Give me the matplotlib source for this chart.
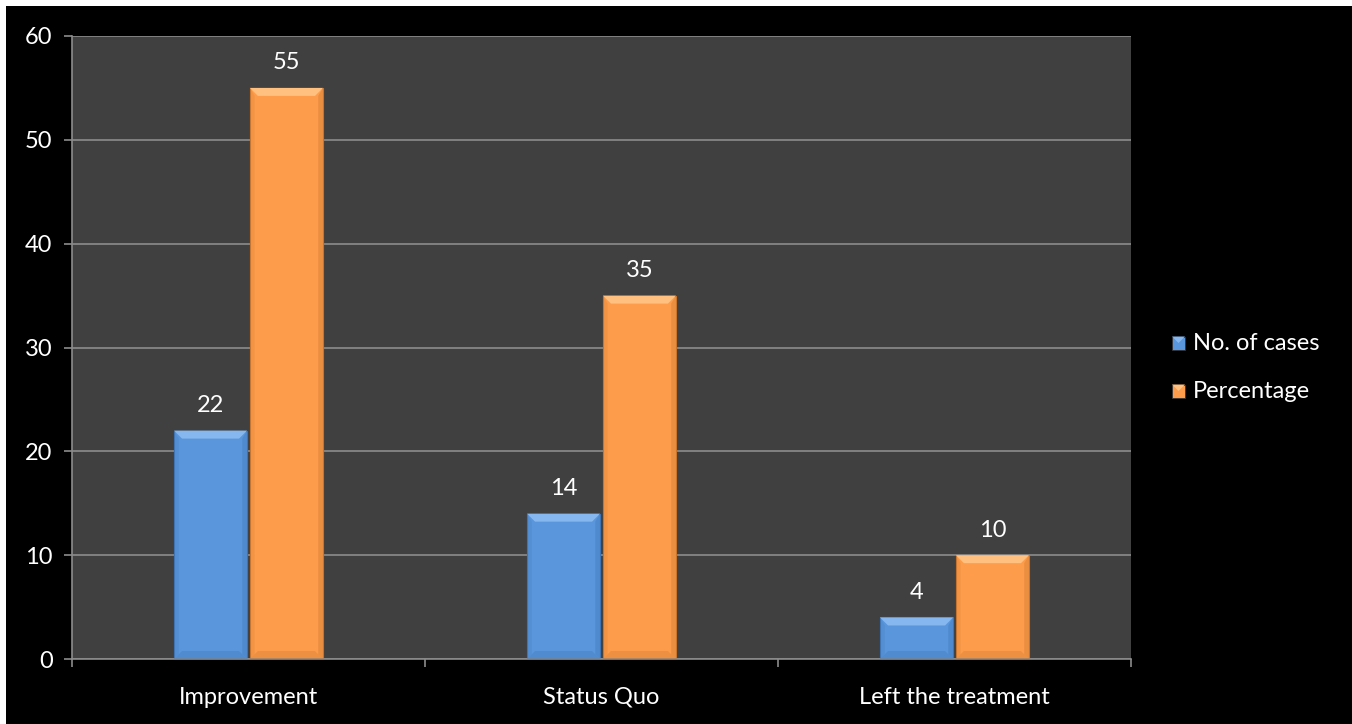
import numpy as np
import matplotlib
matplotlib.use("Agg")
import matplotlib.pyplot as plt
from matplotlib.patches import Polygon, Rectangle

plt.rcParams["font.family"] = ["Lato", "DejaVu Sans"]

categories = ["Improvement", "Status Quo", "Left the treatment"]
cases = [22, 14, 4]
percentage = [55, 35, 10]
series_names = ["No. of cases", "Percentage"]
yticks = [0, 10, 20, 30, 40, 50, 60]

blue = "#5a96dc"
orange = "#fd9d4b"
blue_light, blue_dark = "#86b8ef", "#3f74b4"
orange_light, orange_dark = "#ffc080", "#c9742c"
fs = 17

fig = plt.figure(figsize=(13.52, 7.24), dpi=100, facecolor="white")
# black chart area with a thin white margin on top and left
fig.patches.append(Rectangle((6 / 1352, 0), 1, 1 - 6 / 724, transform=fig.transFigure,
                             facecolor="black", edgecolor="none", zorder=-10))
ax = fig.add_axes([72 / 1352, 1 - 659 / 724, (1131 - 72) / 1352, (659 - 36) / 724])
ax.set_facecolor("#404040")

x = np.arange(len(categories))
w = 0.207
gap = 0.004

ax.set_xlim(-0.5, 2.5)
ax.set_ylim(0, 60)
ax.set_yticks(yticks)
ax.yaxis.grid(True, color="#8c8c8c", linewidth=1.2)
ax.set_axisbelow(True)
ax.set_xticks([-0.5, 0.5, 1.5, 2.5], minor=False)
ax.set_xticklabels([])
ax.set_xticks(x, minor=True)
ax.set_xticklabels(categories, minor=True)
ax.tick_params(axis="x", which="minor", length=0, pad=20, labelsize=fs, labelcolor="white")
ax.tick_params(axis="x", which="major", length=6, color="#8c8c8c", width=1.2)
ax.tick_params(axis="y", length=6, color="#8c8c8c", width=1.2, labelsize=fs,
               labelcolor="white", pad=8)
for s in ["top", "right"]:
    ax.spines[s].set_visible(False)
for s in ["left", "bottom"]:
    ax.spines[s].set_color("#8c8c8c")
    ax.spines[s].set_linewidth(1.2)

fig.canvas.draw()
to_data = ax.transData.inverted()
px_x = to_data.transform((8, 0))[0] - to_data.transform((0, 0))[0]
px_y = to_data.transform((0, 8))[1] - to_data.transform((0, 0))[1]


def bevel_bar(x0, h, color, light, dark):
    x1 = x0 + w
    ax.bar(x0, h, width=w, align="edge", color=color, edgecolor=dark, linewidth=0.8, zorder=2)
    bx, by = px_x, min(px_y, h / 3)
    # lighter top facet
    ax.add_patch(Polygon([(x0, h), (x1, h), (x1 - bx, h - by), (x0 + bx, h - by)],
                         closed=True, facecolor=light, edgecolor="none", zorder=3))
    # darker side and bottom facets
    ax.add_patch(Polygon([(x1, h), (x1, 0), (x1 - bx * 0.6, by * 0.6), (x1 - bx * 0.6, h - by)],
                         closed=True, facecolor=dark, edgecolor="none", alpha=0.35, zorder=3))
    ax.add_patch(Polygon([(x0, 0), (x1, 0), (x1 - bx, by), (x0 + bx, by)],
                         closed=True, facecolor=dark, edgecolor="none", alpha=0.3, zorder=3))
    ax.add_patch(Polygon([(x0, h), (x0, 0), (x0 + bx * 0.6, by * 0.6), (x0 + bx * 0.6, h - by)],
                         closed=True, facecolor=dark, edgecolor="none", alpha=0.2, zorder=3))
    ax.text(x0 + w / 2, h + 1.4, f"{h}", ha="center", va="bottom", color="white", fontsize=fs)


for i in x:
    bevel_bar(i - w - gap, cases[i], blue, blue_light, blue_dark)
    bevel_bar(i + gap, percentage[i], orange, orange_light, orange_dark)

# legend entries with small bevelled swatches
for k, (name, col, light) in enumerate(zip(series_names, [blue, orange], [blue_light, orange_light])):
    yf = 1 - (343 + 48 * k) / 724
    sx, sw = 1172 / 1352, 13 / 1352
    sh = 13 / 724
    fig.patches.append(Rectangle((sx, yf - sh / 2), sw, sh, transform=fig.transFigure,
                                 facecolor=col, edgecolor="#333333", linewidth=0.6))
    fig.patches.append(Polygon([(sx, yf + sh / 2), (sx + sw, yf + sh / 2), (sx + sw / 2, yf)],
                               closed=True, transform=fig.transFigure, facecolor=light,
                               edgecolor="none"))
    fig.text(1193 / 1352, yf, name, color="white", fontsize=fs, va="center", ha="left")

fig.savefig("out.png", dpi=100, facecolor=fig.get_facecolor())
